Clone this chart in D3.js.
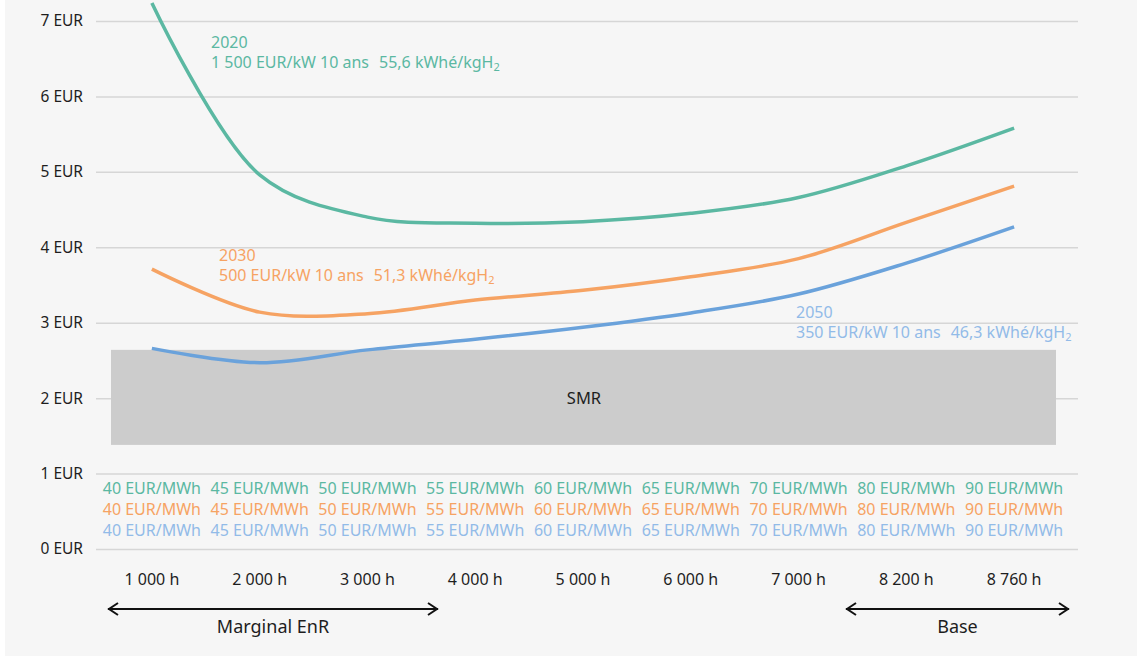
<!DOCTYPE html>
<html><head><meta charset="utf-8">
<script src="https://cdn.jsdelivr.net/npm/d3@7"></script>
<style>
html,body{margin:0;padding:0;background:#fff;}
svg{display:block;font-family:"Noto Sans",sans-serif;}
</style></head>
<body>
<svg id="c" width="1137" height="659"></svg>
<script>
const categories = ["1 000 h","2 000 h","3 000 h","4 000 h","5 000 h","6 000 h","7 000 h","8 200 h","8 760 h"];
const yTicks = [0,1,2,3,4,5,6,7];
const elecPrices = ["40","45","50","55","60","65","70","80","90"];
const series2020 = [7.24, 4.96, 4.40, 4.32, 4.34, 4.45, 4.66, 5.08, 5.58];
const series2030 = [3.71, 3.14, 3.12, 3.30, 3.43, 3.61, 3.85, 4.33, 4.81];
const series2050 = [2.66, 2.47, 2.64, 2.78, 2.94, 3.13, 3.38, 3.79, 4.27];
const seriesNames = ["2020","2030","2050"];
const seriesCapex = ["1 500 EUR/kW 10 ans","500 EUR/kW 10 ans","350 EUR/kW 10 ans"];
const seriesConso = ["55,6 kWhé/kgH","51,3 kWhé/kgH","46,3 kWhé/kgH"];
const smrRange = [1.38, 2.64];
const smrLabel = "SMR";
const spans = [{label:"Marginal EnR", from:0, to:3}, {label:"Base", from:7, to:8}];

const lineColors = ["#5bb8a2","#f6a363","#6aa2db"];
const textColors = ["#5bb8a2","#f6a363","#92bbe8"];
const seriesData = [series2020, series2030, series2050];

const svg = d3.select("#c");
svg.append("rect").attr("x",5).attr("y",0).attr("width",1132).attr("height",656).attr("fill","#f6f6f6");

const y = d3.scaleLinear().domain([0,7]).range([549,21]);
const x = d3.scaleBand().domain(categories).range([98,1068]);
const cx = c => x(c) + x.bandwidth()/2;
const gridL = 96, gridR = 1078;

// y axis with gridlines
const yAxis = d3.axisLeft(y).tickValues(yTicks).tickFormat(d => d + " EUR")
  .tickSize(-(gridR-gridL)).tickPadding(13);
const gy = svg.append("g").attr("transform",`translate(${gridL},0)`).call(yAxis);
gy.select(".domain").remove();
gy.selectAll("line").attr("stroke","#d6d6d6").attr("stroke-width",1.5);
gy.selectAll("text").attr("fill","#1e1e1e").style("font-size","15.5px").style("font-family","Noto Sans");

// SMR box
svg.append("rect").attr("x",111).attr("width",1056-111)
  .attr("y",y(smrRange[1])).attr("height",y(smrRange[0])-y(smrRange[1]))
  .attr("fill","#cccccc");
svg.append("text").attr("x",584).attr("y",(y(smrRange[0])+y(smrRange[1]))/2)
  .attr("dominant-baseline","central").attr("text-anchor","middle")
  .attr("fill","#1e1e1e").style("font-size","16.5px").text(smrLabel);

// lines
const line = d3.line().x((d,i)=>cx(categories[i])).y(d=>y(d)).curve(d3.curveCatmullRom.alpha(0.5));
seriesData.forEach((s,k)=>{
  svg.append("path").datum(s).attr("d",line).attr("fill","none")
    .attr("stroke",lineColors[k]).attr("stroke-width",3.5);
});

// series labels
const labelPos = [[211,48],[219,261],[796,318]];
const gapDx = [10,10,10];
seriesNames.forEach((n,k)=>{
  const [lx,ly] = labelPos[k];
  const g = svg.append("g").attr("fill",textColors[k]).style("font-size","16px");
  g.append("text").attr("x",lx).attr("y",ly).text(n);
  const t = g.append("text").attr("x",lx).attr("y",ly+20);
  t.append("tspan").text(seriesCapex[k]);
  t.append("tspan").attr("dx",gapDx[k]).text(seriesConso[k]);
  t.append("tspan").attr("dy",3).style("font-size","11px").text("2");
});

// electricity price rows
const rowY = [488,509,530];
rowY.forEach((ry,k)=>{
  svg.append("g").selectAll("text").data(elecPrices).join("text")
    .attr("x",(d,i)=>cx(categories[i])).attr("y",ry)
    .attr("text-anchor","middle").attr("dominant-baseline","central")
    .attr("fill",textColors[k]).style("font-size","16px")
    .text(d=>d+" EUR/MWh");
});

// category labels
svg.append("g").selectAll("text").data(categories).join("text")
  .attr("x",d=>cx(d)).attr("y",579).attr("text-anchor","middle").attr("dominant-baseline","central")
  .attr("fill","#1e1e1e").style("font-size","16px").text(d=>d);

// arrows
const arrowX = [[108,438],[846,1069]];
spans.forEach((s,k)=>{
  const [x0,x1] = arrowX[k];
  const g = svg.append("g").attr("stroke","#111").attr("stroke-width",2).attr("fill","none");
  g.append("line").attr("x1",x0).attr("x2",x1).attr("y1",609).attr("y2",609);
  g.append("path").attr("d",`M${x0+10},${603}L${x0+1},${609}L${x0+10},${615}`);
  g.append("path").attr("d",`M${x1-10},${603}L${x1-1},${609}L${x1-10},${615}`);
  svg.append("text").attr("x",(x0+x1)/2).attr("y",626).attr("text-anchor","middle")
    .attr("dominant-baseline","central").attr("fill","#1e1e1e").style("font-size","18px").text(s.label);
});
</script>
</body></html>
